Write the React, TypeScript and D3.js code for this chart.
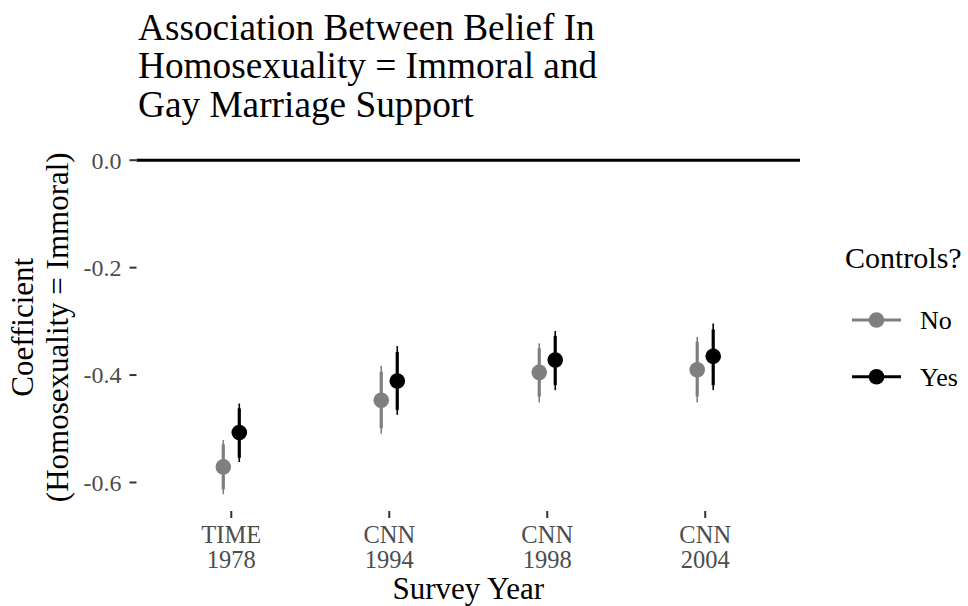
import React from 'react';
import { scalePoint, scaleLinear, min } from 'd3';

// survey labels (two lines each)
const surveys = ['TIME\n1978', 'CNN\n1994', 'CNN\n1998', 'CNN\n2004'];
const controls = ['No', 'Yes'];

// point estimates
const estNo = [-0.571, -0.447, -0.395, -0.39];
const estYes = [-0.507, -0.411, -0.372, -0.365];

// outer (thin) interval
const loOuterNo = [-0.622, -0.509, -0.451, -0.451];
const hiOuterNo = [-0.521, -0.383, -0.341, -0.329];
const loOuterYes = [-0.562, -0.474, -0.428, -0.428];
const hiOuterYes = [-0.453, -0.346, -0.318, -0.304];

// inner (thick) interval
const loInnerNo = [-0.613, -0.499, -0.44, -0.44];
const hiInnerNo = [-0.529, -0.394, -0.35, -0.338];
const loInnerYes = [-0.554, -0.465, -0.419, -0.419];
const hiInnerYes = [-0.462, -0.357, -0.327, -0.315];

const yTicks = [0, -0.2, -0.4, -0.6];

const colors: Record<string, string> = { No: '#7f7f7f', Yes: '#000000' };
const FONT = '"Liberation Serif", "Times New Roman", serif';

const W = 968;
const H = 606;
const panel = { left: 136.5, right: 800, top: 143.5, bottom: 511 };

const series = controls.map((c) => ({
  key: c,
  est: c === 'No' ? estNo : estYes,
  loOuter: c === 'No' ? loOuterNo : loOuterYes,
  hiOuter: c === 'No' ? hiOuterNo : hiOuterYes,
  loInner: c === 'No' ? loInnerNo : loInnerYes,
  hiInner: c === 'No' ? hiInnerNo : hiInnerYes,
}));

export default function App() {
  const x = scalePoint<string>().domain(surveys).range([panel.left, panel.right]).padding(0.6);
  const dodge = scalePoint<string>().domain(controls).range([-8, 8]);

  const lowest = min([...loOuterNo, ...loOuterYes]) as number;
  const span = 0 - lowest;
  const y = scaleLinear()
    .domain([lowest - span * 0.05, 0 + span * 0.05])
    .range([panel.bottom, panel.top]);

  const midY = (panel.top + panel.bottom) / 2;
  const midX = (panel.left + panel.right) / 2;

  return (
    <svg width={W} height={H} style={{ position: 'absolute', left: 0, top: 0, background: '#fff' }} fontFamily={FONT}>
      {/* title */}
      <text fontSize={37.3} fill="#000">
        <tspan x={138} y={40}>Association Between Belief In</tspan>
        <tspan x={138} y={78.3}>Homosexuality = Immoral and</tspan>
        <tspan x={138} y={116.6}>Gay Marriage Support</tspan>
      </text>

      {/* reference line at zero */}
      <line x1={panel.left} x2={panel.right} y1={y(0)} y2={y(0)} stroke="#000" strokeWidth={3} />

      {/* y axis */}
      {yTicks.map((t) => (
        <g key={t}>
          <line x1={panel.left - 7} x2={panel.left} y1={y(t)} y2={y(t)} stroke="#333" strokeWidth={2} />
          <text x={panel.left - 15} y={y(t)} dy="0.35em" textAnchor="end" fontSize={24} fill="#4d4d4d">
            {t.toFixed(1)}
          </text>
        </g>
      ))}

      {/* x axis */}
      {surveys.map((s) => (
        <g key={s}>
          <line x1={x(s)} x2={x(s)} y1={panel.bottom} y2={panel.bottom + 7} stroke="#333" strokeWidth={2} />
          {s.split('\n').map((part, i) => (
            <text key={i} x={x(s)} y={543 + i * 25} textAnchor="middle" fontSize={24.5} fill="#4d4d4d">
              {part}
            </text>
          ))}
        </g>
      ))}

      {/* axis titles */}
      <text x={midX} y={599} textAnchor="middle" fontSize={31} fill="#000">Survey Year</text>
      <text transform={`translate(33,${midY}) rotate(-90)`} textAnchor="middle" fontSize={31} fill="#000">
        Coefficient
      </text>
      <text transform={`translate(68,${midY}) rotate(-90)`} textAnchor="middle" fontSize={31} fill="#000">
        (Homosexuality = Immoral)
      </text>

      {/* point ranges */}
      {series.map((sr) => (
        <g key={sr.key}>
          {surveys.map((s, i) => {
            const cx = (x(s) as number) + (dodge(sr.key) as number);
            return (
              <g key={s}>
                <line x1={cx} x2={cx} y1={y(sr.loOuter[i])} y2={y(sr.hiOuter[i])} stroke={colors[sr.key]} strokeWidth={1.6} />
                <line x1={cx} x2={cx} y1={y(sr.loInner[i])} y2={y(sr.hiInner[i])} stroke={colors[sr.key]} strokeWidth={3.2} />
                <circle cx={cx} cy={y(sr.est[i])} r={7.8} fill={colors[sr.key]} />
              </g>
            );
          })}
        </g>
      ))}

      {/* legend */}
      <text x={845} y={268} fontSize={30} fill="#000">Controls?</text>
      {controls.map((c, i) => {
        const ly = 320 + i * 56.7;
        return (
          <g key={c}>
            <line x1={852} x2={901} y1={ly} y2={ly} stroke={colors[c]} strokeWidth={3} />
            <circle cx={876.5} cy={ly} r={7.8} fill={colors[c]} />
            <text x={920} y={ly} dy="0.35em" fontSize={26} fill="#000">{c}</text>
          </g>
        );
      })}
    </svg>
  );
}
